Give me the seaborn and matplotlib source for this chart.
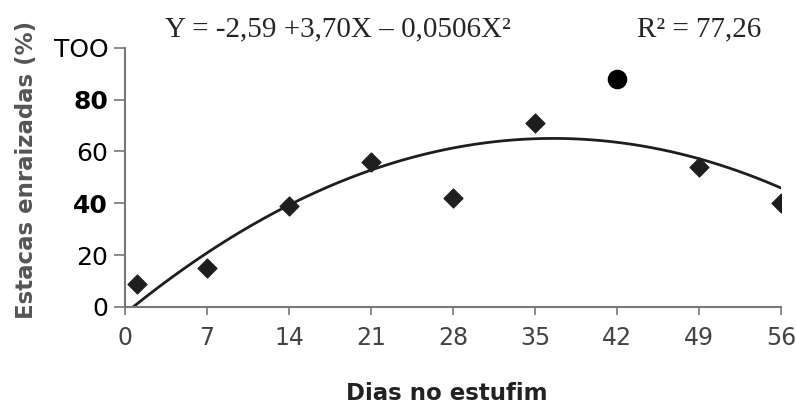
import numpy as np
import pandas as pd
import matplotlib
matplotlib.use("Agg")
import matplotlib.pyplot as plt
import seaborn as sns

# observed rooting (%) per day in the greenhouse
dias = [1, 7, 14, 21, 28, 35, 49, 56]
enraizadas = [9, 15, 39, 56, 42, 71, 54, 40]
# the day-42 point is drawn as a round dot in the figure
dia_42 = [42]
enraizadas_42 = [88]

# fitted quadratic Y = b0 + b1 X + b2 X^2
b0, b1, b2 = -2.59, 3.70, -0.0506
x_ticks = [0, 7, 14, 21, 28, 35, 42, 49, 56]
y_ticks = [0, 20, 40, 60, 80, 100]
y_ticklabels = ["0", "20", "40", "60", "80", "TOO"]

sns.set_style("ticks")
plt.rcParams['font.family'] = ['DejaVu Sans']

fig = plt.figure(figsize=(7.96, 4.13), dpi=100)
ax = fig.add_axes([0.157, 0.257, 0.824, 0.627])

df = pd.DataFrame({"dia": dias, "pct": enraizadas})
x_fit = np.linspace(0.7, 56, 200)
fit = pd.DataFrame({"dia": x_fit, "pct": b0 + b1 * x_fit + b2 * x_fit ** 2})

sns.lineplot(data=fit, x="dia", y="pct", color="#1e1e1e", lw=2, ax=ax)
sns.scatterplot(data=df, x="dia", y="pct", marker="D", s=95, color="#1e1e1e",
                edgecolor="#1e1e1e", ax=ax, zorder=5)
sns.scatterplot(x=dia_42, y=enraizadas_42, marker="o", s=170, color="black",
                edgecolor="black", ax=ax, zorder=5, clip_on=False)

ax.set_xlim(0, 56)
ax.set_ylim(0, 100)
ax.set_xticks(x_ticks)
ax.set_yticks(y_ticks)
ax.set_yticklabels(y_ticklabels)
ax.tick_params(axis="x", labelsize=17, colors="#777777", labelcolor="#444444",
               length=6, width=1.2, pad=8)
ax.tick_params(axis="y", labelsize=18, colors="#777777", labelcolor="black",
               length=8, width=1.2, pad=4)
for lbl in ax.get_yticklabels():
    if lbl.get_text() in ("40", "80"):
        lbl.set_fontweight("bold")

for side in ("top", "right"):
    ax.spines[side].set_visible(False)
for side in ("left", "bottom"):
    ax.spines[side].set_color("#777777")
    ax.spines[side].set_linewidth(1.5)

ax.set_xlabel("Dias no estufim", fontsize=16.5, fontweight="bold", color="#222222")
ax.set_ylabel("Estacas enraizadas (%)", fontsize=16.5, fontweight="bold",
              color="#555555")
ax.xaxis.set_label_coords(0.49, -0.29)
ax.yaxis.set_label_coords(-0.133, 0.53)

fig.text(0.207, 0.93, "Y = -2,59 +3,70X \u2013 0,0506X\u00b2", fontsize=21,
         family="Liberation Serif", va="center")
fig.text(0.80, 0.93, "R\u00b2 = 77,26", fontsize=21, family="Liberation Serif",
         va="center")

fig.savefig("out.png", dpi=100, facecolor="white")
